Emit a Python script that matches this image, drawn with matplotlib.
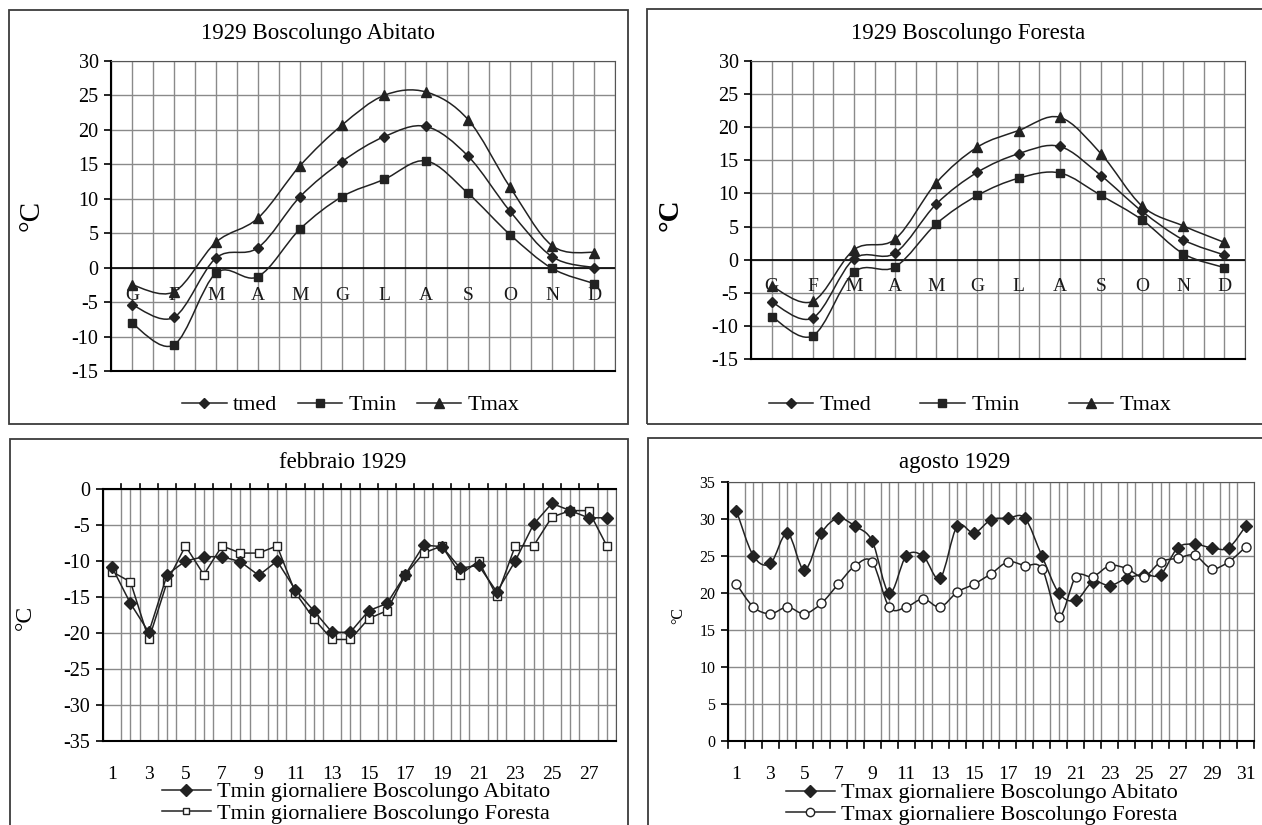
import numpy as np
import matplotlib
matplotlib.use("Agg")
from matplotlib import pyplot as plt
from matplotlib.path import Path
from matplotlib.patches import PathPatch, Rectangle
from matplotlib.lines import Line2D

plt.rcParams['font.family'] = ['Liberation Serif', 'DejaVu Sans']
plt.rcParams['axes.unicode_minus'] = False

# monthly means 1929
mesi = ["G", "F", "M", "A", "M", "G", "L", "A", "S", "O", "N", "D"]
abit_tmed = [-5.4, -7.2, 1.4, 2.9, 10.3, 15.4, 19.0, 20.5, 16.2, 8.2, 1.6, 0.0]
abit_tmin = [-8.1, -11.2, -0.8, -1.3, 5.6, 10.3, 12.8, 15.5, 10.8, 4.8, -0.1, -2.3]
abit_tmax = [-2.5, -3.5, 3.7, 7.2, 14.8, 20.7, 25.0, 25.5, 21.5, 11.7, 3.2, 2.2]

fore_tmed = [-6.4, -8.8, 0.1, 1.0, 8.4, 13.2, 16.0, 17.1, 12.7, 7.3, 3.0, 0.7]
fore_tmin = [-8.6, -11.5, -1.9, -1.1, 5.4, 9.7, 12.3, 13.1, 9.7, 6.0, 0.9, -1.2]
fore_tmax = [-4.0, -6.3, 1.5, 3.1, 11.6, 17.0, 19.5, 21.5, 16.0, 8.1, 5.1, 2.6]

# febbraio 1929, Tmin giornaliere
giorni_feb = list(range(1, 29))
feb_abitato = [-10.9, -15.9, -19.9, -11.9, -10.0, -9.4, -9.4, -10.1, -12.0, -10.0,
               -14.0, -16.9, -19.9, -19.9, -16.9, -15.9, -11.9, -7.8, -8.0, -11.0,
               -10.6, -14.3, -10.0, -4.9, -2.0, -3.0, -4.0, -4.0]
feb_foresta = [-11.5, -12.9, -20.9, -12.9, -7.9, -11.9, -7.9, -8.9, -8.9, -7.9,
               -14.4, -18.0, -20.9, -20.9, -18.0, -16.9, -11.9, -8.9, -7.9, -11.9,
               -10.0, -14.9, -7.9, -7.9, -3.9, -3.0, -3.0, -7.9]

# agosto 1929, Tmax giornaliere
giorni_ago = list(range(1, 32))
ago_abitato = [31.1, 25.0, 24.0, 28.1, 23.1, 28.1, 30.1, 29.0, 27.0, 20.0,
               25.0, 25.0, 22.0, 29.0, 28.1, 29.9, 30.1, 30.1, 25.0, 20.0,
               19.0, 21.5, 21.0, 22.0, 22.5, 22.5, 26.1, 26.6, 26.1, 26.1, 29.0]
ago_foresta = [21.2, 18.1, 17.2, 18.1, 17.2, 18.6, 21.2, 23.7, 24.2, 18.1,
               18.1, 19.2, 18.1, 20.1, 21.2, 22.6, 24.2, 23.7, 23.3, 16.8,
               22.2, 22.2, 23.7, 23.3, 22.2, 24.2, 24.7, 25.1, 23.3, 24.2, 26.2]

W, H = 1262, 825
fig = plt.figure(figsize=(W / 100, H / 100), dpi=100)

LC = "#222222"
GC = "#8a8a8a"


def rect(l, t, r, b):
    return [l / W, 1 - b / H, (r - l) / W, (b - t) / H]


def ftext(x, y, s, **kw):
    fig.text(x / W, 1 - y / H, s, ha="center", va="center", **kw)


def box(l, t, r, b):
    fig.add_artist(Rectangle((l / W, 1 - b / H), (r - l) / W, (b - t) / H,
                             transform=fig.transFigure, fill=False,
                             ec="#3c3c3c", lw=1.3))


def smooth_line(ax, x, y):
    # excel-like smoothed line (bezier through the points)
    p = np.column_stack([x, y]).astype(float)
    n = len(p)
    verts, codes = [p[0]], [Path.MOVETO]
    for i in range(n - 1):
        p0, p1 = p[max(i - 1, 0)], p[i]
        p2, p3 = p[i + 1], p[min(i + 2, n - 1)]
        verts += [p1 + (p2 - p0) / 6, p2 - (p3 - p1) / 6, p2]
        codes += [Path.CURVE4] * 3
    ax.add_patch(PathPatch(Path(verts, codes), fill=False, ec=LC, lw=1.1, zorder=3))


def base_axes(r, xlim, ylim, ystep, xgrid=0.5):
    ax = fig.add_axes(rect(*r))
    ax.set_xlim(*xlim)
    ax.set_ylim(*ylim)
    ax.set_yticks(np.arange(ylim[0], ylim[1] + 0.1, ystep))
    ax.set_xticks(np.arange(xlim[0], xlim[1] + 0.01, xgrid), minor=True)
    ax.set_xticks([])
    ax.grid(True, which="minor", axis="x", color=GC, lw=1.0)
    ax.grid(True, which="major", axis="y", color=GC, lw=1.0)
    ax.set_axisbelow(True)
    for s in ["top", "right"]:
        ax.spines[s].set_color("#555555")
    for s in ["left", "bottom"]:
        ax.spines[s].set_color("black")
        ax.spines[s].set_linewidth(1.5)
    ax.tick_params(axis="y", length=5, width=1.2, pad=4, labelsize=14.5)
    ax.tick_params(axis="x", which="minor", length=0)
    return ax


# ---- top panels: monthly
def monthly(r, tmed, tmin, tmax, title, tcx, labels, legx, ylab_x, ylab_bold, colsp):
    ax = base_axes(r, (0.5, 12.5), (-15, 30), 5)
    ax.axhline(0, color="black", lw=1.2, zorder=2)
    x = np.arange(1, 13)
    for vals, m, ms in [(tmax, "^", 7), (tmed, "D", 5), (tmin, "s", 6)]:
        smooth_line(ax, x, vals)
        ax.plot(x, vals, ls="none", marker=m, ms=ms, color=LC, zorder=4)
    for xi, lab in zip(x, mesi):
        ax.text(xi, -4.0, lab, ha="center", va="center", fontsize=14, color="#1a1a1a")
    ftext(tcx, 34, title, fontsize=16.5)
    ftext(ylab_x, 215, "°C", fontsize=21, rotation=90,
          fontweight="bold" if ylab_bold else "normal")
    handles = [Line2D([], [], color=LC, lw=1.1, marker="D", ms=5),
               Line2D([], [], color=LC, lw=1.1, marker="s", ms=6),
               Line2D([], [], color=LC, lw=1.1, marker="^", ms=7)]
    fig.legend(handles, labels, loc="center", ncol=3, frameon=False,
               bbox_to_anchor=(legx / W, 1 - 405 / H), fontsize=16,
               handlelength=2.0, handletextpad=0.3, columnspacing=colsp)
    return ax


box(9, 10, 628, 424)
box(647, 9, 1280, 424)
box(10, 439, 628, 850)
box(648, 438, 1280, 850)

monthly((111, 61, 615, 371), abit_tmed, abit_tmin, abit_tmax,
        "1929 Boscolungo Abitato", 318, ["tmed", "Tmin", "Tmax"], 351, 32, False, 0.9)
monthly((751, 61, 1245, 359), fore_tmed, fore_tmin, fore_tmax,
        "1929 Boscolungo Foresta", 968, ["Tmed", "Tmin", "Tmax"], 970, 670, True, 2.2)

# ---- febbraio
ax3 = base_axes((103, 489, 616, 741), (0.5, 28.5), (-35, 0), 5)
ax3.set_xticks(np.arange(1, 28, 2))
ax3.tick_params(axis="x", which="major", length=0, labelsize=14, pad=18)
ax3.set_xticks(np.arange(0.5, 28.51, 0.5), minor=True)
for xt in np.arange(1.5, 28.5, 1):
    ax3.plot([xt, xt], [0, 0.7], color="black", lw=1.2, clip_on=False)
ax3.spines["top"].set_color("black")
ax3.spines["top"].set_linewidth(1.5)
ax3.plot(giorni_feb, feb_abitato, color=LC, lw=1.1, marker="D", ms=6, zorder=4)
ax3.plot(giorni_feb, feb_foresta, color=LC, lw=1.1, marker="s", ms=5.5, mfc="white", zorder=3)
ftext(343, 463, "febbraio 1929", fontsize=16.5)
ftext(25, 617, "°C", fontsize=17, rotation=90)
h3 = [Line2D([], [], color=LC, lw=1.1, marker="D", ms=6),
      Line2D([], [], color=LC, lw=1.1, marker="s", ms=5, mfc="white")]
fig.legend(h3, ["Tmin giornaliere Boscolungo Abitato", "Tmin giornaliere Boscolungo Foresta"],
           loc="center", frameon=False, bbox_to_anchor=(356 / W, 1 - 803 / H), fontsize=16,
           handlelength=2.2, handletextpad=0.3, labelspacing=0.05)

# ---- agosto
ax4 = base_axes((728, 482, 1254, 741), (0.5, 31.5), (0, 35), 5)
ax4.set_xticks(np.arange(1, 32, 2))
ax4.tick_params(axis="x", which="major", length=0, labelsize=14, pad=18)
ax4.set_xticks(np.arange(0.5, 31.51, 0.5), minor=True)
ax4.tick_params(axis="y", labelsize=11.5)
for xt in np.arange(0.5, 31.6, 1):
    ax4.plot([xt, xt], [0, -0.9], color="black", lw=1.2, clip_on=False)
smooth_line(ax4, giorni_ago, ago_abitato)
smooth_line(ax4, giorni_ago, ago_foresta)
ax4.plot(giorni_ago, ago_abitato, ls="none", color=LC, marker="D", ms=6.5, zorder=4)
ax4.plot(giorni_ago, ago_foresta, ls="none", color=LC, marker="o", ms=6.5, mfc="white", zorder=4)
ftext(955, 463, "agosto 1929", fontsize=16.5)
ftext(678, 615, "°C", fontsize=11.5, rotation=90)
h4 = [Line2D([], [], color=LC, lw=1.1, marker="D", ms=6.5),
      Line2D([], [], color=LC, lw=1.1, marker="o", ms=6, mfc="white")]
fig.legend(h4, ["Tmax giornaliere Boscolungo Abitato", "Tmax giornaliere Boscolungo Foresta"],
           loc="center", frameon=False, bbox_to_anchor=(982 / W, 1 - 804 / H), fontsize=16,
           handlelength=2.2, handletextpad=0.3, labelspacing=0.05)

fig.savefig("out.png", dpi=100)
